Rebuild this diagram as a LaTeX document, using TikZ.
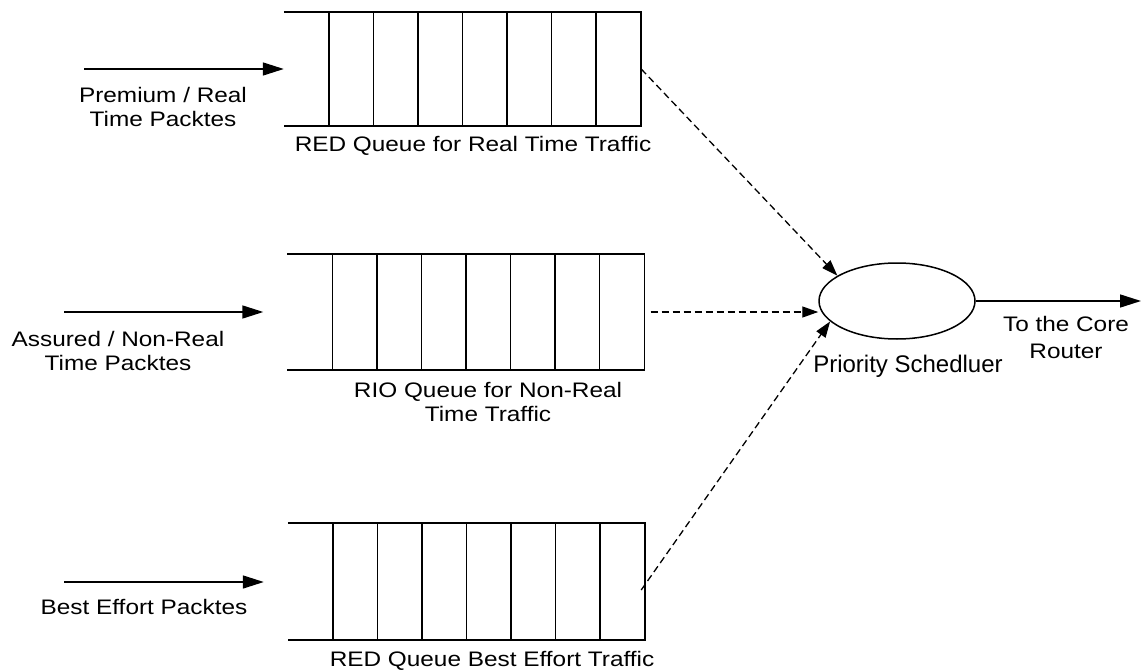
\documentclass[tikz,border=0pt]{standalone}
\usepackage{fontspec}
\setmainfont{Liberation Sans}[FakeStretch=1.16]
\newfontfamily\plainsans{Liberation Sans}[FakeStretch=1.0]
\usetikzlibrary{arrows.meta,calc,shapes.geometric}
\begin{document}
\begin{tikzpicture}[x=1pt,y=-1pt,
  every node/.style={font=\fontsize{21}{24}\selectfont},
  lbl/.style={align=center, inner sep=0pt},
  queue/.style={draw=none, minimum width=357pt, inner sep=0pt},
  solidarrow/.style={line width=1.5pt, -{Triangle[length=21pt,width=13pt]}},
  dasharrow/.style={line width=1.3pt, dash pattern=on 7pt off 4pt, -{Triangle[length=16pt,width=11pt]}},
  qline/.style={line width=1.5pt},
  schedshape/.style={ellipse, draw, line width=1.5pt, minimum width=156pt, minimum height=76pt, inner sep=0pt}]
\useasboundingbox (0,0) rectangle (1142,671);

% queues
\node[queue, minimum height=114pt] (q1) at (462.5,69) {};
\node[queue, minimum height=116pt] (q2) at (466,312) {};
\node[queue, minimum height=117pt] (q3) at (466.5,581.5) {};
\foreach \q in {q1,q2,q3}{
  \draw[qline] (\q.north west) -- (\q.north east) -- (\q.south east) -- (\q.south west);
  \foreach \i in {0,...,6}
    \draw[qline] ($(\q.north west)+(45+\i*44.57,0)$) -- ($(\q.south west)+(45+\i*44.57,0)$);
}

% scheduler
\node[schedshape] (s) at (897,301) {};

% input arrows
\coordinate (a1) at (84,69);
\coordinate (a2) at (64,312);
\coordinate (a3) at (64,582);
\draw[solidarrow] (a1) -- (q1.west);
\draw[solidarrow] (a2) -- ([xshift=-24pt]q2.west);
\draw[solidarrow] (a3) -- ([xshift=-24pt,yshift=-0.5pt]q3.west);

% dashed arrows to scheduler
\draw[dasharrow] (q1.east) -- (s.157);
\draw[dasharrow] ([xshift=6pt]q2.east) -- (s.west |- q2.east);
\draw[dasharrow] ([xshift=-4pt,yshift=-8.5pt]q3.east) -- (s.197);

% output
\coordinate (o) at (1141,301);
\draw[solidarrow] (s.east) -- (o);

% labels
\node[lbl] (l1) at (163,107) {Premium / Real\\Time Packtes};
\node[lbl] (l2) at (118,351) {Assured / Non-Real\\Time Packtes};
\node[lbl] (l3) at (144,607) {Best Effort Packtes};
\node[lbl] (ql1) at (473,146) {RED Queue for Real Time Traffic};
\node[lbl] (ql2) at (488,402) {RIO Queue for Non-Real\\Time Traffic};
\node[lbl] (ql3) at (492,661) {RED Queue Best Effort Traffic};
\node[lbl, font=\plainsans\fontsize{24}{26}\selectfont] (sl) at (908,366) {Priority Schedluer};
\node[lbl] (ol) at (1066,337) {To the Core\\[3pt]Router};
\end{tikzpicture}
\end{document}
